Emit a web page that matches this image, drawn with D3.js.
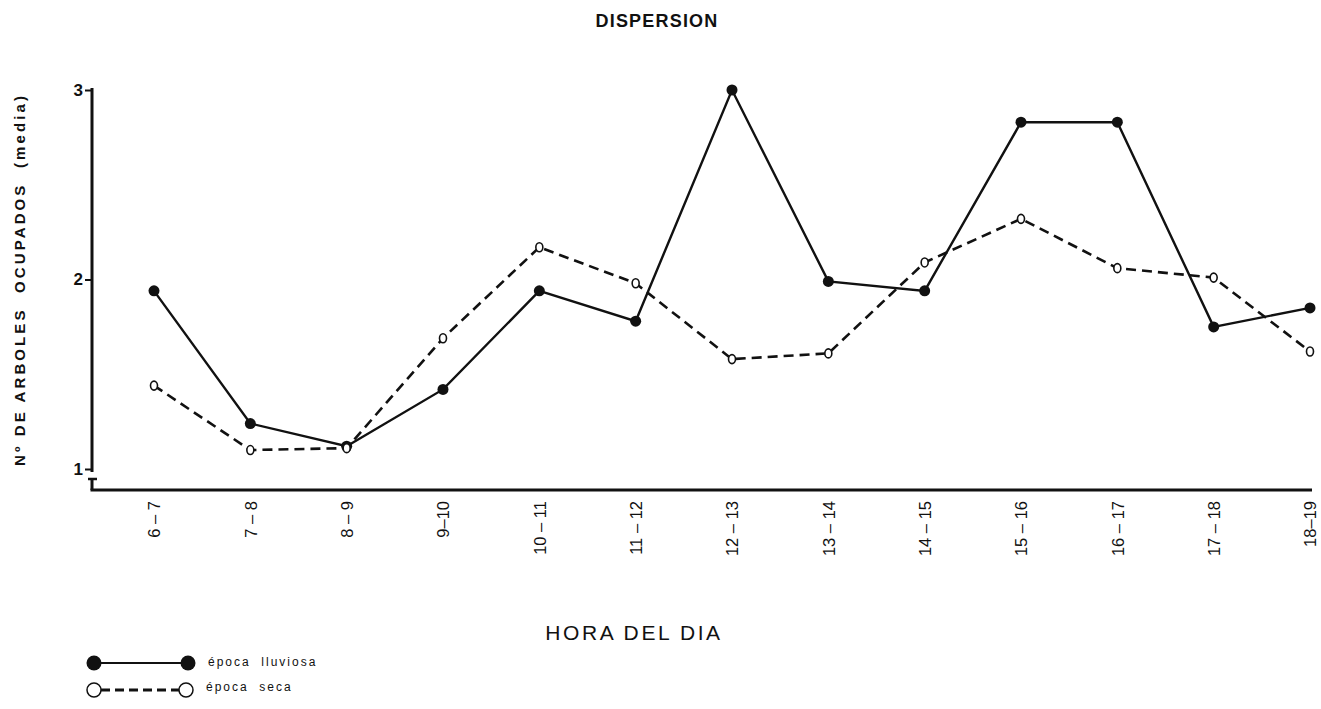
<!DOCTYPE html>
<html>
<head>
<meta charset="utf-8">
<script src="https://cdn.jsdelivr.net/npm/d3@7"></script>
<style>
  html, body { margin: 0; padding: 0; background: #fff; }
  svg { display: block; }
  text { font-family: "Liberation Sans", Arial, Helvetica, sans-serif; fill: #111; }
</style>
</head>
<body>
<svg id="chart" width="1321" height="709"></svg>
<script>
// Hour-of-day intervals
const categories = ["6 – 7", "7 – 8", "8 – 9", "9–10", "10 – 11", "11 – 12", "12 – 13",
                    "13 – 14", "14 – 15", "15 – 16", "16 – 17", "17 – 18", "18–19"];
// Mean number of occupied trees, rainy season
const lluviosa = [1.94, 1.24, 1.12, 1.42, 1.94, 1.78, 3.00, 1.99, 1.94, 2.83, 2.83, 1.75, 1.85];
// Mean number of occupied trees, dry season
const seca = [1.44, 1.10, 1.11, 1.69, 2.17, 1.98, 1.58, 1.61, 2.09, 2.32, 2.06, 2.01, 1.62];
const yTicks = [1, 2, 3];

const svg = d3.select("#chart");
const ink = "#111";

const x = d3.scalePoint().domain(categories).range([154, 1310]);
const y = d3.scaleLinear().domain([1, 3]).range([469, 90]);

const axisX = 92, baseY = 490;

// Title
svg.append("text").attr("x", 657).attr("y", 27).attr("text-anchor", "middle")
  .attr("font-size", 18).attr("font-weight", "bold").attr("letter-spacing", 1.2)
  .text("DISPERSION");

// Y axis (broken near the base)
const yAxis = d3.axisLeft(y).tickValues(yTicks).tickFormat(d3.format("d"))
  .tickSize(7).tickSizeOuter(0);
const gy = svg.append("g").attr("transform", `translate(${axisX},0)`).call(yAxis);
gy.select(".domain").remove();
gy.selectAll(".tick line").attr("stroke", ink).attr("stroke-width", 2);
gy.selectAll(".tick text").attr("font-size", 17).attr("font-weight", "bold")
  .attr("x", -9).attr("fill", ink);
svg.append("line").attr("x1", axisX).attr("x2", axisX)
  .attr("y1", y(3) - 2).attr("y2", y(1) + 3)
  .attr("stroke", ink).attr("stroke-width", 3);
// break mark
svg.append("line").attr("x1", axisX - 4).attr("x2", axisX + 5)
  .attr("y1", 479).attr("y2", 479).attr("stroke", ink).attr("stroke-width", 2.5);
svg.append("line").attr("x1", axisX).attr("x2", axisX)
  .attr("y1", 479).attr("y2", baseY).attr("stroke", ink).attr("stroke-width", 3);

// X axis
svg.append("line").attr("x1", axisX - 1.5).attr("x2", 1312)
  .attr("y1", baseY).attr("y2", baseY).attr("stroke", ink).attr("stroke-width", 3);
const xAxis = d3.axisBottom(x).tickSize(0);
const gx = svg.append("g").attr("transform", `translate(0,${baseY})`).call(xAxis);
gx.select(".domain").remove();
gx.selectAll(".tick text")
  .attr("font-size", 16.5).attr("fill", ink)
  .attr("text-anchor", "end")
  .attr("transform", "rotate(-90)")
  .attr("x", -11).attr("y", 0).attr("dy", "0.35em");

// Axis titles
svg.append("text").attr("x", 634).attr("y", 640).attr("text-anchor", "middle")
  .attr("font-size", 21).attr("letter-spacing", 2.6).text("HORA DEL DIA");
svg.append("text")
  .attr("transform", `translate(25,${(y(3) + y(1)) / 2}) rotate(-90)`)
  .attr("text-anchor", "middle").attr("font-size", 15).attr("font-weight", "bold")
  .attr("letter-spacing", 3.1).attr("xml:space", "preserve")
  .text("Nº DE ARBOLES  OCUPADOS  (media)");

// Series
const line = d3.line().x((d, i) => x(categories[i])).y(d => y(d));

svg.append("path").datum(seca).attr("d", line).attr("fill", "none")
  .attr("stroke", ink).attr("stroke-width", 2.6).attr("stroke-dasharray", "10,6");
svg.append("path").datum(lluviosa).attr("d", line).attr("fill", "none")
  .attr("stroke", ink).attr("stroke-width", 2.4);

svg.selectAll("circle.ll").data(lluviosa).enter().append("circle").attr("class", "ll")
  .attr("cx", (d, i) => x(categories[i])).attr("cy", d => y(d)).attr("r", 5.5)
  .attr("fill", ink);
svg.selectAll("ellipse.se").data(seca).enter().append("ellipse").attr("class", "se")
  .attr("cx", (d, i) => x(categories[i])).attr("cy", d => y(d)).attr("rx", 3.5).attr("ry", 4.5)
  .attr("fill", "#fff").attr("stroke", ink).attr("stroke-width", 1.6);

// Legend
const lg = svg.append("g");
lg.append("line").attr("x1", 94).attr("x2", 188).attr("y1", 663).attr("y2", 663)
  .attr("stroke", ink).attr("stroke-width", 2);
[94, 188].forEach(cx => lg.append("circle").attr("cx", cx).attr("cy", 663).attr("r", 7.5).attr("fill", ink));
lg.append("text").attr("x", 208).attr("y", 666).attr("font-size", 12).attr("letter-spacing", 2)
  .attr("xml:space", "preserve").text("época  lluviosa");
lg.append("line").attr("x1", 101).attr("x2", 179).attr("y1", 690).attr("y2", 690)
  .attr("stroke", ink).attr("stroke-width", 2.8).attr("stroke-dasharray", "9,5");
[94, 186].forEach(cx => lg.append("circle").attr("cx", cx).attr("cy", 690).attr("r", 7)
  .attr("fill", "#fff").attr("stroke", ink).attr("stroke-width", 1.5));
lg.append("text").attr("x", 206).attr("y", 691).attr("font-size", 12).attr("letter-spacing", 2)
  .attr("xml:space", "preserve").text("época  seca");
</script>
</body>
</html>
